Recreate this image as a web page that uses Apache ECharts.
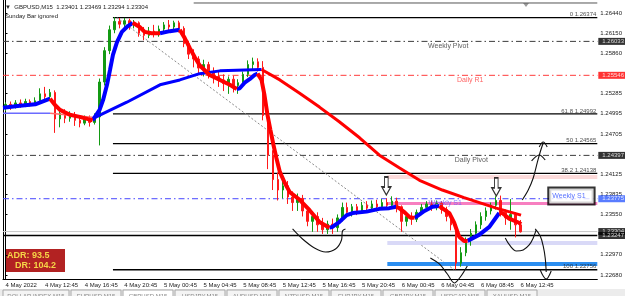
<!DOCTYPE html>
<html>
<head>
<meta charset="utf-8">
<title>GBPUSD M15</title>
<script src="https://cdn.jsdelivr.net/npm/echarts@6.0.0/dist/echarts.min.js"></script>
<style>
  html, body { margin: 0; padding: 0; background: #fff; }
  #chart { width: 625px; height: 296px; }
</style>
</head>
<body>
<div id="chart"></div>
<script>
// time axis labels (one every 4 hours) and price axis ticks
var timeLabels = ['4 May 2022', '4 May 12:45', '4 May 16:45', '4 May 20:45', '5 May 00:45', '5 May 04:45', '5 May 08:45',
  '5 May 12:45', '5 May 16:45', '5 May 20:45', '6 May 00:45', '6 May 04:45', '6 May 08:45', '6 May 12:45'];
var priceTicks = [1.2644, 1.2615, 1.2586, 1.25285, 1.24995, 1.24705, 1.24125, 1.23835, 1.2355, 1.2297, 1.2268];

// GBPUSD, one candle per 30 min from 4 May 08:45 : [open, close, low, high]
var candles = [
  [1.2508, 1.2513, 1.2503, 1.2516], [1.2513, 1.2510, 1.2505, 1.2517], [1.2510, 1.2515, 1.2507, 1.2519], [1.2515, 1.2512, 1.2508, 1.2520],
  [1.2512, 1.2517, 1.2509, 1.2521], [1.2517, 1.2513, 1.2510, 1.2520], [1.2513, 1.2518, 1.2511, 1.2523], [1.2518, 1.2528, 1.2516, 1.2536],
  [1.2528, 1.2524, 1.2518, 1.2538], [1.2524, 1.2530, 1.2519, 1.2535], [1.2530, 1.2492, 1.2472, 1.2533], [1.2492, 1.2500, 1.2480, 1.2508],
  [1.2500, 1.2493, 1.2486, 1.2506], [1.2493, 1.2498, 1.2488, 1.2503], [1.2498, 1.2490, 1.2482, 1.2502], [1.2490, 1.2486, 1.2480, 1.2496],
  [1.2486, 1.2492, 1.2483, 1.2497], [1.2492, 1.2487, 1.2481, 1.2497], [1.2487, 1.2495, 1.2484, 1.2500], [1.2495, 1.2545, 1.2454, 1.2550],
  [1.2545, 1.2590, 1.2540, 1.2595], [1.2590, 1.2620, 1.2585, 1.2626], [1.2620, 1.2632, 1.2615, 1.2638], [1.2632, 1.2628, 1.2622, 1.2637],
  [1.2628, 1.2633, 1.2624, 1.2637], [1.2633, 1.2627, 1.2620, 1.2636], [1.2627, 1.2630, 1.2622, 1.2634], [1.2630, 1.2615, 1.2610, 1.2632],
  [1.2615, 1.2612, 1.2605, 1.2624], [1.2612, 1.2618, 1.2608, 1.2624], [1.2618, 1.2614, 1.2609, 1.2627], [1.2614, 1.2621, 1.2610, 1.2626],
  [1.2621, 1.2627, 1.2617, 1.2631], [1.2627, 1.2624, 1.2618, 1.2634], [1.2624, 1.2630, 1.2618, 1.2633], [1.2630, 1.2622, 1.2616, 1.2633],
  [1.2622, 1.2600, 1.2595, 1.2625], [1.2600, 1.2585, 1.2578, 1.2604], [1.2585, 1.2578, 1.2566, 1.2592], [1.2578, 1.2565, 1.2557, 1.2582],
  [1.2565, 1.2570, 1.2553, 1.2577], [1.2570, 1.2560, 1.2550, 1.2574], [1.2560, 1.2553, 1.2543, 1.2566], [1.2553, 1.2548, 1.2538, 1.2560],
  [1.2548, 1.2543, 1.2532, 1.2556], [1.2543, 1.2549, 1.2528, 1.2553], [1.2549, 1.2540, 1.2530, 1.2554], [1.2540, 1.2544, 1.2528, 1.2549],
  [1.2544, 1.2556, 1.2540, 1.2560], [1.2556, 1.2570, 1.2552, 1.2576], [1.2570, 1.2574, 1.2563, 1.2580], [1.2574, 1.2566, 1.2560, 1.2579],
  [1.2566, 1.2497, 1.2490, 1.2575], [1.2497, 1.2440, 1.2420, 1.2502], [1.2440, 1.2405, 1.2390, 1.2447], [1.2405, 1.2390, 1.2375, 1.2415],
  [1.2390, 1.2396, 1.2378, 1.2405], [1.2396, 1.2380, 1.2370, 1.2403], [1.2380, 1.2372, 1.2360, 1.2388], [1.2372, 1.2378, 1.2360, 1.2385],
  [1.2378, 1.2360, 1.2352, 1.2383], [1.2360, 1.2345, 1.2338, 1.2365], [1.2345, 1.2352, 1.2330, 1.2357], [1.2352, 1.2340, 1.2330, 1.2358],
  [1.2340, 1.2333, 1.2327, 1.2350], [1.2333, 1.2341, 1.2327, 1.2346], [1.2341, 1.2336, 1.2327, 1.2349], [1.2336, 1.2350, 1.2330, 1.2355],
  [1.2350, 1.2365, 1.2345, 1.2372], [1.2365, 1.2358, 1.2352, 1.2372], [1.2358, 1.2366, 1.2352, 1.2370], [1.2366, 1.2360, 1.2354, 1.2370],
  [1.2360, 1.2368, 1.2356, 1.2373], [1.2368, 1.2364, 1.2358, 1.2374], [1.2364, 1.2370, 1.2360, 1.2375], [1.2370, 1.2366, 1.2361, 1.2376],
  [1.2366, 1.2372, 1.2362, 1.2377], [1.2372, 1.2368, 1.2363, 1.2378], [1.2368, 1.2374, 1.2364, 1.2381], [1.2374, 1.2366, 1.2358, 1.2379],
  [1.2366, 1.2345, 1.2330, 1.2368], [1.2345, 1.2352, 1.2338, 1.2358], [1.2352, 1.2348, 1.2340, 1.2358], [1.2348, 1.2358, 1.2344, 1.2362],
  [1.2358, 1.2365, 1.2354, 1.2370], [1.2365, 1.2370, 1.2360, 1.2374], [1.2370, 1.2366, 1.2360, 1.2375], [1.2366, 1.2371, 1.2361, 1.2375],
  [1.2371, 1.2362, 1.2356, 1.2374], [1.2362, 1.2352, 1.2345, 1.2366], [1.2352, 1.2340, 1.2332, 1.2358], [1.2340, 1.2285, 1.2276, 1.2344],
  [1.2285, 1.2300, 1.2280, 1.2308], [1.2300, 1.2318, 1.2295, 1.2322], [1.2318, 1.2328, 1.2310, 1.2334], [1.2328, 1.2340, 1.2322, 1.2345],
  [1.2340, 1.2352, 1.2334, 1.2358], [1.2352, 1.2360, 1.2346, 1.2365], [1.2360, 1.2368, 1.2355, 1.2372], [1.2368, 1.2375, 1.2362, 1.2381],
  [1.2375, 1.2358, 1.2352, 1.2382], [1.2358, 1.2350, 1.2340, 1.2362], [1.2350, 1.2355, 1.2333, 1.2377], [1.2355, 1.2340, 1.2322, 1.2358],
  [1.2340, 1.2330, 1.2329, 1.2347]
];

// moving averages as [slot, price], split where the colour flips
var fastMaUp = [
  [[-0.5, 1.2508], [2.9, 1.2511], [6, 1.2513], [9, 1.2521]],
  [[17.6, 1.2490], [18, 1.2492], [19, 1.2505], [19.7, 1.2519], [20.5, 1.2541], [21.1, 1.2562], [21.7, 1.2584], [22.5, 1.2602], [23.5, 1.2617], [24.5, 1.2624], [25.7, 1.2630]],
  [[31.2, 1.2615], [33.2, 1.2618], [35.2, 1.2620]],
  [[46.7, 1.2535], [47.3, 1.2536], [48.3, 1.2544], [49.3, 1.2549], [50.3, 1.2555], [50.9, 1.2557]],
  [[65.4, 1.2336], [66, 1.2337], [67.4, 1.2344], [68.9, 1.2354], [70.1, 1.2357], [72.9, 1.2359], [75.5, 1.2363], [77.5, 1.2364], [78.9, 1.2366]],
  [[82.6, 1.2350], [83.2, 1.2353], [84.6, 1.2360], [86.2, 1.2366], [87.6, 1.2367]],
  [[93.3, 1.2317], [95.7, 1.2326], [97.7, 1.2337], [99.7, 1.2357]]
];
var fastMaDown = [
  [[9, 1.2521], [10, 1.2512], [11, 1.2505], [13, 1.2498], [15, 1.2495], [17.6, 1.2490]],
  [[25.7, 1.2630], [27.1, 1.2624], [28.1, 1.2617], [29.5, 1.2615], [31.2, 1.2615]],
  [[35.2, 1.2620], [36.2, 1.2608], [37.2, 1.2594], [38.2, 1.2581], [39.2, 1.2569], [41.2, 1.2555], [43.3, 1.2548], [45.3, 1.2541], [46.7, 1.2535]],
  [[50.9, 1.2557], [51.7, 1.2548], [52.3, 1.2526], [52.9, 1.2498], [53.5, 1.2476], [54.1, 1.2455], [54.7, 1.2436], [55.4, 1.2416], [56.4, 1.2400], [57.4, 1.2387], [59.4, 1.2376], [61.4, 1.2361], [63.4, 1.2344], [65.4, 1.2336]],
  [[78.9, 1.2366], [79.5, 1.2364], [80.6, 1.2358], [81.6, 1.2351], [82.6, 1.2350]],
  [[87.6, 1.2367], [89.6, 1.2357], [90.6, 1.2343], [91.6, 1.2323], [92.6, 1.2317], [93.3, 1.2317]],
  [[99.7, 1.2357], [100.3, 1.2357], [101.7, 1.2349], [103.7, 1.2343], [104.1, 1.2341]]
];
var slowMaFlatUp = [[-0.5, 1.2500], [9, 1.2500]];
var slowMaFlatDown = [[9, 1.2500], [18, 1.2494]];
var slowMaUp = [[18, 1.2494], [24.5, 1.2516], [31.2, 1.2541], [35.2, 1.2548], [39.2, 1.2557], [43.3, 1.2561], [51.7, 1.2563]];
var slowMaDown = [[51.7, 1.2563], [55.4, 1.2548], [59.4, 1.2529], [63.4, 1.2509], [67.4, 1.2488], [71.5, 1.2465], [75.5, 1.2440],
  [79.5, 1.2422], [83.6, 1.2404], [88.2, 1.2390], [92.6, 1.2379], [99.1, 1.2364], [104.1, 1.2354]];

// pivot levels
var pivotNames = ['Weekly Pivot', 'Daily R1', 'Daily Pivot', 'Weekly S1'];
var pivotValues = [1.26033, 1.25546, 1.24397, 1.23775];

// fibonacci from the 4 May high to the 6 May low
var fibRatios = ['0', '38.2', '50', '61.8', '100'];
var fibValues = [1.26374, 1.24138, 1.24565, 1.24992, 1.22756];
var fibAnchors = [[22.5, 1.26374], [90.6, 1.22756]];

var supportLevel = 1.23247;
var lastQuote = [1.23401, 1.23469, 1.23294, 1.23304]; // O H L C
var zoneLevels = [1.24087, 1.23707, 1.23140, 1.22840];
var topLevel = 1.26584;
var adrStats = [93.5, 104.2];

// hand drawn marks, [slot, price]
var sketchStrokes = [
  [[57.97, 1.23341], [59.98, 1.23197], [62.4, 1.23068], [64.62, 1.23011], [66.64, 1.23054], [67.85, 1.23183], [68.05, 1.23312], [68.65, 1.23341]],
  [[85.79, 1.22925], [87.6, 1.22839], [89.22, 1.22695], [90.63, 1.22566], [91.84, 1.22652], [93.25, 1.22810]],
  [[100.91, 1.23212], [101.92, 1.23097], [103.13, 1.23025], [104.54, 1.23040], [105.75, 1.23112], [106.56, 1.23212], [107.16, 1.23327]],
  [[104.34, 1.23757], [105.55, 1.23900], [106.56, 1.24073], [107.36, 1.24288], [107.97, 1.24446], [108.57, 1.24575]],
  [[107.77, 1.24518], [108.57, 1.24589], [109.38, 1.24518]],
  [[106.23, 1.24317], [107.77, 1.24403], [108.98, 1.24331]],
  [[106.96, 1.23341], [107.97, 1.23240], [108.57, 1.23097], [108.98, 1.22925], [109.18, 1.22724]],
  [[107.97, 1.22753], [109.18, 1.22623], [110.19, 1.22738]]
];
var arrowPoints = [[76.9, 1.23958], [99.1, 1.23944]];

var FONT = 'Liberation Sans';
var SLOTS = 120;
var X_END = SLOTS - 0.5;
var categories = [];
for (var i = 0; i < SLOTS; i++) {
  categories.push(i % 8 === 0 && timeLabels[i / 8] ? timeLabels[i / 8] : '');
}

var series = [];
function addLine(data, color, width, z, type, smooth) {
  series.push({
    type: 'line', xAxisIndex: 1, data: data, symbol: 'none', silent: true, animation: false,
    smooth: smooth || false, clip: false, z: z,
    lineStyle: { color: color, width: width, type: type || 'solid' }
  });
}

// candles
series.push({
  type: 'candlestick', data: candles, barWidth: 2, silent: true, animation: false, z: 3,
  itemStyle: { color: '#139a13', color0: '#ff1a1a', borderColor: '#139a13', borderColor0: '#ff1a1a', borderWidth: 1 }
});

// horizontal levels across the whole chart
var dashDot = [6, 3, 1.5, 3];
var pivotColors = ['#3c3c3c', '#ff3b3b', '#3c3c3c', '#4646ff'];
var pivotBoxes = ['#000', '#ff0000', '#000', '#2f5bff'];
pivotValues.forEach(function (v, i) { addLine([[-0.5, v], [X_END, v]], pivotColors[i], 1, 1, dashDot); });
addLine([[-0.5, lastQuote[3]], [X_END, lastQuote[3]]], '#c8c8c8', 1, 1);
addLine([[-0.5, supportLevel], [X_END, supportLevel]], '#000', 1.5, 1);

// fib levels, trend line, zones
fibValues.forEach(function (v) { addLine([[21.7, v], [X_END, v]], '#000', 1.3, 1); });
addLine(fibAnchors, '#8a8a8a', 1, 1, [2, 2]);
addLine([[38, topLevel], [X_END, topLevel]], '#555', 1, 1);
var zoneColors = ['#fcdada', '#f77fc0', '#d9d9f7', '#2b8ef0'];
var zoneWidths = [4, 3, 4, 4];
zoneLevels.forEach(function (v, i) { addLine([[77.1, v], [X_END, v]], zoneColors[i], zoneWidths[i], 1); });

// moving averages
addLine(slowMaFlatUp, '#6b6bff', 1.5, 4);
addLine(slowMaFlatDown, '#ff6b6b', 1.5, 4);
addLine(slowMaUp, '#0000ff', 3, 4);
addLine(slowMaDown, '#ff0000', 3, 4);
fastMaUp.forEach(function (seg) { addLine(seg, '#0000ff', 4, 5); });
fastMaDown.forEach(function (seg) { addLine(seg, '#ff0000', 4, 5); });

// hand drawn marks
sketchStrokes.forEach(function (seg) { addLine(seg, '#111', 1.1, 6, 'solid', 0.35); });
series.push({
  type: 'scatter', xAxisIndex: 1, data: arrowPoints, silent: true, animation: false, z: 7, clip: false,
  symbol: 'path://M3,0 L7,0 L7,10 L10,10 L5,18 L0,10 L3,10 Z', symbolSize: [9, 18],
  itemStyle: { color: '#fff', borderColor: '#000', borderWidth: 1.3 }
});

// texts on the chart
var pivotTextPos = [[89.4, 1.25967], [93.85, 1.25479], [94.06, 1.24331], [88.8, 1.23714]];
var pivotTextColors = ['#333', '#ff3b3b', '#333', '#6a5cff'];
var notes = pivotNames.map(function (n, i) {
  return { value: pivotTextPos[i], label: { formatter: n, color: pivotTextColors[i] } };
});
fibValues.forEach(function (v, i) {
  notes.push({ value: [X_END - 0.2, v], label: { formatter: fibRatios[i] + ' ' + v.toFixed(5), align: 'right', verticalAlign: 'bottom', color: '#222', fontSize: 6 } });
});
notes.push({ value: [109.8, 1.23814], label: { formatter: 'Weekly S1', align: 'left', color: '#2f4fff',
  backgroundColor: '#fff', borderColor: '#000', borderWidth: 2, padding: [4, 8, 4, 3], lineHeight: 7 } });

// price boxes on the axis
var boxValues = pivotValues.concat([lastQuote[3], supportLevel]);
var boxColors = pivotBoxes.concat(['#000', '#000']);
boxValues.forEach(function (v, i) {
  notes.push({ value: [X_END, v], label: { formatter: v.toFixed(5), align: 'left', color: '#fff', fontSize: 6,
    backgroundColor: boxColors[i], padding: [1, 4, 0, 4], offset: [1, 0] } });
});
series.push({
  type: 'scatter', xAxisIndex: 1, data: notes, symbolSize: 0, silent: true, animation: false, z: 8, clip: false,
  label: { show: true, position: 'inside', fontSize: 7, fontFamily: FONT, align: 'center', verticalAlign: 'middle' }
});

// tab strip
var tabNames = ['DOLLAR INDEX,M15', 'EURUSD,M15', 'GBPUSD,M15', 'USDJPY,M15', 'AUDUSD,M15', 'NZDUSD,M15', 'EURJPY,M15', 'GBPJPY,M15', 'USDCAD,M15', 'XAUUSD,M15'];
var tabs = [{ type: 'rect', shape: { x: 0, y: 289, width: 625, height: 7 }, style: { fill: '#ececec' } }];
var tx = 3;
tabNames.forEach(function (n, i) {
  var w = i === 0 ? 68 : 52;
  tabs.push({ type: 'rect', shape: { x: tx, y: 290, width: w - 2, height: 8 },
    style: { fill: i === 2 ? '#fff' : '#f4f4f4', stroke: '#a8a8a8', lineWidth: 1 } });
  tabs.push({ type: 'text', style: { text: n, x: tx + (w - 2) / 2, y: 293, align: 'center', verticalAlign: 'top',
    fill: '#888', font: '6px ' + FONT } });
  tx += w;
});

var option = {
  backgroundColor: '#fff',
  animation: false,
  grid: { left: 3, right: 27, top: 0, bottom: 17 },
  xAxis: [{
    type: 'category', data: categories, boundaryGap: true,
    axisLine: { lineStyle: { color: '#000', width: 1 } },
    axisTick: { interval: function (i) { return i % 8 === 0; }, length: 2, lineStyle: { color: '#000' } },
    axisLabel: { interval: function (i) { return i % 8 === 0; }, align: 'left', fontSize: 6, color: '#222', margin: 3, fontFamily: FONT },
    splitLine: { show: false }
  }, {
    type: 'value', min: -0.5, max: X_END, show: false
  }],
  yAxis: {
    type: 'value', position: 'right', min: 1.22623, max: 1.26627, scale: true,
    splitLine: { show: false },
    axisLine: { show: true, lineStyle: { color: '#000' } },
    axisTick: { show: true, length: 2, customValues: priceTicks, lineStyle: { color: '#000' } },
    axisLabel: { customValues: priceTicks, formatter: function (v) { return v.toFixed(5); }, fontSize: 6, color: '#222', margin: 3, fontFamily: FONT }
  },
  graphic: [
    { type: 'line', shape: { x1: 3.5, y1: 0, x2: 3.5, y2: 279 }, style: { stroke: '#000', lineWidth: 1 } },
    { type: 'text', style: { text: '\u25BC  GBPUSD,M15  ' + lastQuote.map(function (q) { return q.toFixed(5); }).join(' '),
      x: 5, y: 7, verticalAlign: 'middle', fill: '#222', font: '6px ' + FONT } },
    { type: 'text', style: { text: 'Sunday Bar ignored', x: 5, y: 16, verticalAlign: 'middle', fill: '#222', font: '6px ' + FONT } },
    { type: 'polygon', shape: { points: [[523, 3], [529, 3], [526, 7]] }, style: { fill: '#9a9a9a' } },
    { type: 'rect', shape: { x: 5, y: 249, width: 60, height: 23 }, style: { fill: '#b22222' } },
    { type: 'text', style: { text: 'ADR: ' + adrStats[0], x: 7, y: 256, verticalAlign: 'middle', fill: '#f5d547', font: 'bold 9px ' + FONT } },
    { type: 'text', style: { text: 'DR: ' + adrStats[1], x: 15, y: 266, verticalAlign: 'middle', fill: '#f5d547', font: 'bold 9px ' + FONT } }
  ].concat(tabs),
  series: series
};

var chart = echarts.init(document.getElementById('chart'));
chart.setOption(option);
</script>
</body>
</html>
